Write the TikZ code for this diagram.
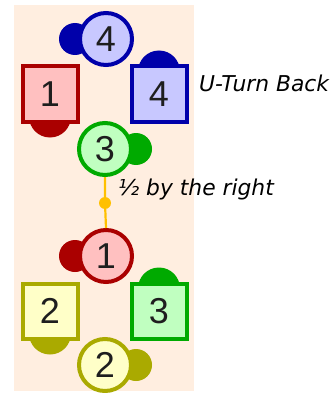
\documentclass[tikz,border=0pt]{standalone}
\usepackage{fontspec}
\setmainfont{DejaVu Sans}
\newfontfamily\digitfont{Liberation Sans}
\definecolor{bg}{RGB}{255,238,224}
\definecolor{bluedark}{RGB}{0,0,170}
\definecolor{bluelight}{RGB}{200,200,255}
\definecolor{reddark}{RGB}{170,0,0}
\definecolor{redlight}{RGB}{255,192,192}
\definecolor{greendark}{RGB}{0,170,0}
\definecolor{greenlight}{RGB}{192,255,192}
\definecolor{olivedark}{RGB}{170,170,0}
\definecolor{olivelight}{RGB}{255,255,200}
\definecolor{orangeline}{RGB}{255,192,0}
\definecolor{digit}{RGB}{30,30,30}
\tikzset{
  disc/.style={circle, draw, line width=4pt, minimum size=52pt, inner sep=0pt,
    font=\digitfont\fontsize{36}{36}\selectfont, text=digit},
  sqbox/.style={rectangle, draw, line width=4pt, minimum size=55pt, inner sep=0pt,
    font=\digitfont\fontsize{36}{36}\selectfont, text=digit},
  cbump/.style={circle, minimum size=32pt, inner sep=0pt},
  sbump/.style={circle, minimum size=42pt, inner sep=0pt},
  lbl/.style={font=\itshape\fontsize{21.8}{24}\selectfont, text=black, anchor=base west, inner sep=0pt},
  joint/.style={circle, fill=orangeline, minimum size=12pt, inner sep=0pt}
}
\begin{document}
\begin{tikzpicture}[x=1pt,y=-1pt]
\useasboundingbox (0,0) rectangle (336,393);
\fill[bg] (14,5) rectangle (194,391);
% top group
\node[cbump, fill=bluedark] (b4c) at (75,39) {};
\node[disc, draw=bluedark, fill=bluelight] (c4) at (106,39) {4};
\node[sbump, fill=reddark] (b1s) at (50,116.5) {};
\node[sqbox, draw=reddark, fill=redlight] (s1) at (50,94) {1};
\node[sbump, fill=bluedark] (b4s) at (159,71.5) {};
\node[sqbox, draw=bluedark, fill=bluelight] (s4) at (159,94) {4};
\node[cbump, fill=greendark] (b3c) at (136,149) {};
\node[disc, draw=greendark, fill=greenlight] (c3) at (105,149) {3};
% bottom group
\node[cbump, fill=reddark] (b1c) at (75,256) {};
\node[disc, draw=reddark, fill=redlight] (c1) at (106,256) {1};
\node[sbump, fill=olivedark] (b2s) at (50,333.5) {};
\node[sqbox, draw=olivedark, fill=olivelight] (s2) at (50,311) {2};
\node[sbump, fill=greendark] (b3s) at (159,288.5) {};
\node[sqbox, draw=greendark, fill=greenlight] (s3) at (159,311) {3};
\node[cbump, fill=olivedark] (b2c) at (136,365) {};
\node[disc, draw=olivedark, fill=olivelight] (c2) at (105,365) {2};
% connector
\node[joint] (dot) at (105,203) {};
\draw[orangeline, line width=2.2pt] (c3.south) -- (dot) -- (c1.north);
% labels
\node[lbl] (t1) at (199,92) {U-Turn Back};
\node[lbl] (t2) at (118,195) {½ by the right};
\end{tikzpicture}
\end{document}
